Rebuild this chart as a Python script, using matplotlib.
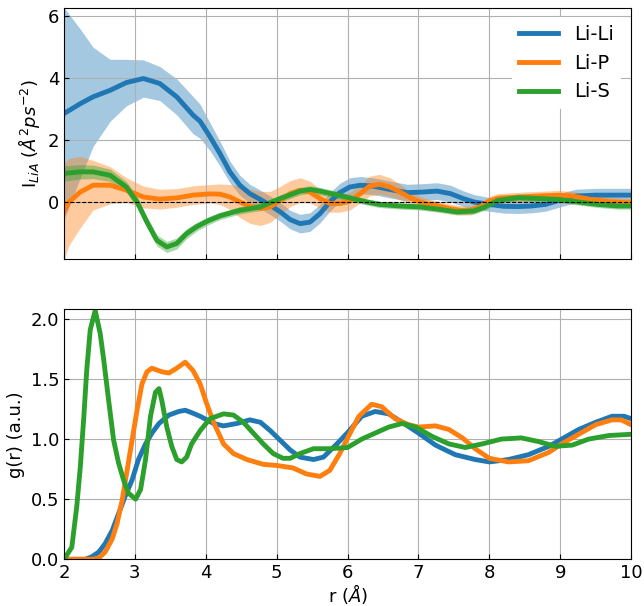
import matplotlib
matplotlib.use('Agg')
import matplotlib.pyplot as plt
import numpy as np

# ---- top panel: I_LiA with uncertainty band ----
r_lili_top = [2.0, 2.23, 2.41, 2.65, 2.88, 3.12, 3.35, 3.59, 3.82, 3.92, 4.06, 4.2, 4.34, 4.48,
              4.62, 4.77, 4.91, 5.05, 5.19, 5.33, 5.47, 5.61, 5.75, 5.89, 6.03, 6.18, 6.36,
              6.6, 6.84, 7.07, 7.26, 7.45, 7.63, 7.78, 8.0, 8.2, 8.41, 8.6, 8.79, 9.03, 9.22,
              9.5, 9.75, 10.0]
i_lili = [2.85, 3.17, 3.39, 3.6, 3.85, 3.98, 3.82, 3.39, 2.80, 2.6, 2.1, 1.56, 0.97, 0.54,
          0.27, 0.08, -0.11, -0.32, -0.57, -0.70, -0.65, -0.38, 0.0, 0.3, 0.48, 0.54, 0.51,
          0.40, 0.30, 0.32, 0.35, 0.27, 0.11, 0.0, -0.08, -0.14, -0.15, -0.13, -0.08, 0.08,
          0.19, 0.22, 0.22, 0.22]
err_lili = [3.42, 2.4, 1.6, 1.0, 0.75, 0.6, 0.55, 0.58, 0.6, 0.55, 0.45, 0.4, 0.35, 0.32,
            0.3, 0.3, 0.3, 0.3, 0.3, 0.3, 0.3, 0.3, 0.3, 0.3, 0.3, 0.28, 0.27,
            0.27, 0.27, 0.27, 0.27, 0.27, 0.25, 0.24, 0.22, 0.22, 0.22, 0.22, 0.22, 0.22,
            0.22, 0.22, 0.22, 0.22]

r_lip_top = [2.0, 2.07, 2.23, 2.41, 2.65, 2.88, 3.12, 3.35, 3.59, 3.82, 4.06, 4.2, 4.34, 4.48,
             4.62, 4.77, 4.91, 5.05, 5.19, 5.33, 5.47, 5.61, 5.75, 5.89, 6.03, 6.18, 6.31,
             6.45, 6.6, 6.74, 6.88, 7.02, 7.16, 7.3, 7.45, 7.59, 7.73, 7.87, 8.0, 8.12, 8.41,
             8.69, 8.97, 9.16, 9.44, 9.72, 10.0]
i_lip = [-0.32, 0.0, 0.32, 0.54, 0.54, 0.38, 0.16, 0.09, 0.13, 0.22, 0.26, 0.25, 0.16, 0.0,
         -0.14, -0.21, -0.16, 0.05, 0.27, 0.38, 0.32, 0.11, -0.05, -0.05, 0.02, 0.27, 0.51,
         0.57, 0.48, 0.32, 0.14, 0.0, -0.08, -0.14, -0.22, -0.27, -0.27, -0.16, 0.03, 0.12,
         0.16, 0.19, 0.22, 0.19, 0.08, 0.0, -0.03]
err_lip = [1.55, 1.4, 1.15, 0.8, 0.6, 0.4, 0.35, 0.32, 0.3, 0.3, 0.3, 0.33, 0.4, 0.5,
           0.55, 0.55, 0.5, 0.45, 0.42, 0.4, 0.35, 0.3, 0.28, 0.28, 0.28, 0.3, 0.32,
           0.32, 0.3, 0.25, 0.2, 0.18, 0.16, 0.15, 0.15, 0.15, 0.15, 0.15, 0.15, 0.15, 0.15,
           0.15, 0.15, 0.15, 0.15, 0.15, 0.15]

r_lis_top = [2.0, 2.23, 2.41, 2.65, 2.88, 3.03, 3.17, 3.31, 3.45, 3.59, 3.73, 3.87, 4.04, 4.2,
             4.48, 4.77, 5.05, 5.33, 5.47, 5.61, 5.89, 6.03, 6.27, 6.45, 6.74, 7.02, 7.3,
             7.54, 7.78, 7.95, 8.12, 8.41, 8.69, 8.97, 9.25, 9.53, 9.81, 10.0]
i_lis = [0.92, 0.97, 0.97, 0.86, 0.48, 0.0, -0.65, -1.24, -1.45, -1.34, -1.02, -0.8, -0.6,
         -0.45, -0.27, -0.16, 0.11, 0.35, 0.40, 0.35, 0.21, 0.13, 0.0, -0.08, -0.13, -0.16,
         -0.24, -0.32, -0.29, -0.15, 0.05, 0.14, 0.11, 0.08, 0.0, -0.08, -0.13, -0.13]
err_lis = [0.25, 0.23, 0.22, 0.2, 0.18, 0.18, 0.18, 0.18, 0.18, 0.18, 0.16, 0.14, 0.13, 0.12,
           0.12, 0.12, 0.12, 0.12, 0.12, 0.12, 0.11, 0.1, 0.1, 0.1, 0.1, 0.1, 0.1,
           0.1, 0.1, 0.1, 0.1, 0.1, 0.1, 0.1, 0.1, 0.1, 0.1, 0.1]

# ---- bottom panel: g(r) ----
r_lili_g = [2.0, 2.3, 2.39, 2.49, 2.58, 2.68, 2.77, 2.86, 2.96, 3.05, 3.15, 3.24, 3.34, 3.48,
            3.62, 3.71, 3.80, 3.92, 4.11, 4.25, 4.44, 4.62, 4.77, 4.91, 5.05, 5.19, 5.33,
            5.52, 5.66, 5.85, 6.01, 6.2, 6.39, 6.58, 6.77, 7.0, 7.24, 7.52, 7.8, 8.0, 8.27,
            8.55, 8.84, 9.02, 9.26, 9.5, 9.73, 9.9, 10.0]
g_lili = [0.0, 0.0, 0.02, 0.06, 0.13, 0.24, 0.38, 0.52, 0.66, 0.83, 0.96, 1.05, 1.13, 1.2,
          1.23, 1.24, 1.22, 1.19, 1.13, 1.11, 1.13, 1.16, 1.14, 1.07, 0.99, 0.91, 0.85,
          0.83, 0.85, 0.96, 1.06, 1.19, 1.23, 1.21, 1.14, 1.05, 0.95, 0.87, 0.83, 0.81, 0.83,
          0.87, 0.94, 1.0, 1.08, 1.14, 1.19, 1.19, 1.17]

r_lip_g = [2.0, 2.4, 2.49, 2.58, 2.68, 2.75, 2.82, 2.89, 2.96, 3.03, 3.10, 3.17, 3.24, 3.38,
           3.48, 3.59, 3.71, 3.82, 3.92, 4.01, 4.11, 4.25, 4.39, 4.58, 4.81, 5.01, 5.23, 5.42,
           5.61, 5.75, 5.89, 6.01, 6.16, 6.34, 6.48, 6.67, 6.86, 7.0, 7.24, 7.43, 7.62, 7.8,
           8.0, 8.27, 8.55, 8.84, 9.02, 9.26, 9.5, 9.73, 9.86, 10.0]
g_lip = [0.0, 0.0, 0.01, 0.06, 0.17, 0.30, 0.49, 0.74, 0.99, 1.24, 1.46, 1.56, 1.59, 1.56,
         1.55, 1.59, 1.64, 1.57, 1.46, 1.30, 1.14, 0.96, 0.88, 0.83, 0.79, 0.78, 0.76, 0.71,
         0.69, 0.74, 0.88, 1.02, 1.19, 1.29, 1.27, 1.17, 1.12, 1.10, 1.11, 1.08, 1.01, 0.92,
         0.84, 0.81, 0.82, 0.89, 0.96, 1.04, 1.12, 1.16, 1.16, 1.12]

r_lis_g = [2.0, 2.11, 2.18, 2.23, 2.28, 2.32, 2.37, 2.44, 2.51, 2.56, 2.63, 2.70, 2.77, 2.84,
           2.91, 3.01, 3.08, 3.15, 3.22, 3.29, 3.34, 3.38, 3.45, 3.52, 3.59, 3.66, 3.73, 3.80,
           3.92, 4.06, 4.25, 4.39, 4.53, 4.67, 4.81, 4.95, 5.09, 5.19, 5.33, 5.52, 5.75, 6.0,
           6.2, 6.39, 6.58, 6.77, 6.96, 7.2, 7.43, 7.66, 7.9, 8.17, 8.45, 8.69, 8.93, 9.17,
           9.4, 9.69, 10.0]
g_lis = [0.0, 0.1, 0.44, 0.77, 1.19, 1.57, 1.91, 2.07, 1.88, 1.66, 1.32, 0.99, 0.80, 0.66,
         0.55, 0.5, 0.58, 0.83, 1.19, 1.39, 1.42, 1.32, 1.10, 0.94, 0.83, 0.81, 0.85, 0.96,
         1.07, 1.17, 1.21, 1.20, 1.14, 1.05, 0.96, 0.88, 0.84, 0.84, 0.88, 0.92, 0.92, 0.93,
         1.0, 1.05, 1.10, 1.13, 1.10, 1.02, 0.96, 0.93, 0.96, 1.0, 1.01, 0.98, 0.94, 0.95,
         1.0, 1.03, 1.04]

labels = ['Li-Li', 'Li-P', 'Li-S']
colors = ['tab:blue', 'tab:orange', 'tab:green']

plt.rcParams['font.size'] = 13

fig = plt.figure(figsize=(6.44, 6.06), dpi=100)
ax_top = fig.add_axes([0.0994, 0.5726, 0.8806, 0.415])
ax_bot = fig.add_axes([0.0994, 0.0771, 0.8806, 0.4125])

top_series = [(r_lili_top, i_lili, err_lili), (r_lip_top, i_lip, err_lip), (r_lis_top, i_lis, err_lis)]
for (r, v, e), lab, c in zip(top_series, labels, colors):
    r, v, e = np.array(r), np.array(v), np.array(e)
    ax_top.fill_between(r, v - e, v + e, color=c, alpha=0.4, lw=0)
    ax_top.plot(r, v, color=c, lw=3.5, label=lab)
ax_top.axhline(0, color='k', ls='--', lw=0.8)
ax_top.set_xlim(2, 10)
ax_top.set_ylim(-1.84, 6.27)
ax_top.set_yticks([0, 2, 4, 6])
ax_top.set_xticklabels([])
ax_top.set_ylabel(r'I$_{LiA}$ ($\AA^2 ps^{-2}$)')
ax_top.grid(True)
ax_top.legend(loc='upper right', fontsize=14, framealpha=1, edgecolor='none', fancybox=False)

bot_series = [(r_lili_g, g_lili), (r_lip_g, g_lip), (r_lis_g, g_lis)]
for (r, g), lab, c in zip(bot_series, labels, colors):
    ax_bot.plot(r, g, color=c, lw=3.5, label=lab)
ax_bot.set_xlim(2, 10)
ax_bot.set_ylim(0, 2.08)
ax_bot.set_yticks([0.0, 0.5, 1.0, 1.5, 2.0])
ax_bot.set_xlabel(r'r ($\AA$)', labelpad=0)
ax_bot.set_ylabel('g(r) (a.u.)')
ax_bot.grid(True)

for ax in (ax_top, ax_bot):
    ax.tick_params(direction='in')

fig.savefig('out.png', dpi=100)
